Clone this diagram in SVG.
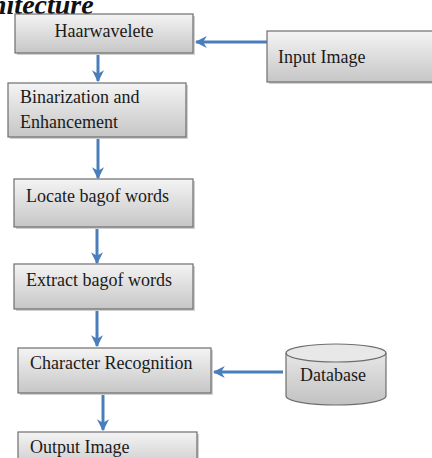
<svg xmlns="http://www.w3.org/2000/svg" width="432" height="458" viewBox="0 0 432 458">
<defs>
<linearGradient id="g" x1="0" y1="0" x2="0" y2="1">
<stop offset="0" stop-color="#f4f4f4"/>
<stop offset="1" stop-color="#c6c6c6"/>
</linearGradient>
<linearGradient id="gc" x1="0" y1="0" x2="0" y2="1">
<stop offset="0" stop-color="#e6e6e6"/>
<stop offset="1" stop-color="#c2c2c2"/>
</linearGradient>
<marker id="ah" viewBox="0 0 10 10" refX="9" refY="5" markerWidth="4" markerHeight="4" orient="auto" markerUnits="strokeWidth">
<path d="M0,0 L10,5 L0,10 L3,5 Z" fill="#4a7ebb"/>
</marker>
</defs>
<style>
.box{fill:url(#g);stroke:#6e6e6e;stroke-width:1.2}
.sh{fill:#d0d0d0}
.t{font-family:"Liberation Serif","Times New Roman",serif;font-size:18px;fill:#1a1a1a}
.c{stroke:#4a7ebb;stroke-width:3;fill:none;marker-end:url(#ah)}
</style>
<rect width="432" height="458" fill="#ffffff"/>
<text x="-9" y="14" font-family="Liberation Serif, serif" font-size="28" font-weight="bold" font-style="italic" fill="#111">hitecture</text>

<g id="connectors">
<line class="c" x1="267" y1="42" x2="196" y2="42"/>
<line class="c" x1="98" y1="53" x2="98" y2="81"/>
<line class="c" x1="98" y1="137" x2="98" y2="178"/>
<line class="c" x1="97" y1="227" x2="97" y2="263"/>
<line class="c" x1="97" y1="309" x2="97" y2="346"/>
<line class="c" x1="103" y1="393" x2="103" y2="430"/>
<line class="c" x1="283" y1="372" x2="214" y2="372"/>
</g>

<g id="haarwavelete">
<rect class="sh" x="17" y="16" width="178" height="39"/>
<rect class="box" x="15" y="14" width="178" height="39"/>
<text class="t" x="104" y="37" text-anchor="middle">Haarwavelete</text>
</g>
<g id="input-image">
<rect class="sh" x="269" y="33" width="170" height="51"/>
<rect class="box" x="267" y="31" width="170" height="51"/>
<text class="t" x="278" y="63">Input Image</text>
</g>
<g id="binarization">
<rect class="sh" x="10" y="85" width="178" height="54"/>
<rect class="box" x="8" y="83" width="178" height="54"/>
<text class="t" x="20" y="103">Binarization and</text>
<text class="t" x="20" y="128">Enhancement</text>
</g>
<g id="locate">
<rect class="sh" x="16" y="181" width="179" height="48"/>
<rect class="box" x="14" y="179" width="179" height="48"/>
<text class="t" x="26" y="202">Locate bagof words</text>
</g>
<g id="extract">
<rect class="sh" x="16" y="266" width="179" height="45"/>
<rect class="box" x="14" y="264" width="179" height="45"/>
<text class="t" x="26" y="286">Extract bagof words</text>
</g>
<g id="character-recognition">
<rect class="sh" x="20" y="350" width="193" height="45"/>
<rect class="box" x="18" y="348" width="193" height="45"/>
<text class="t" x="30" y="369">Character Recognition</text>
</g>
<g id="output-image">
<rect class="sh" x="20" y="434" width="179" height="40"/>
<rect class="box" x="18" y="432" width="179" height="40"/>
<text class="t" x="30" y="453">Output Image</text>
</g>
<g id="database">
<path d="M286,353 L286,396 A50,9 0 0 0 386,396 L386,353" fill="url(#gc)" stroke="#6e6e6e" stroke-width="1.2"/>
<ellipse cx="336" cy="353" rx="50" ry="9" fill="#e8e8e8" stroke="#6e6e6e" stroke-width="1.2"/>
<text class="t" x="300" y="381">Database</text>
</g>
</svg>
